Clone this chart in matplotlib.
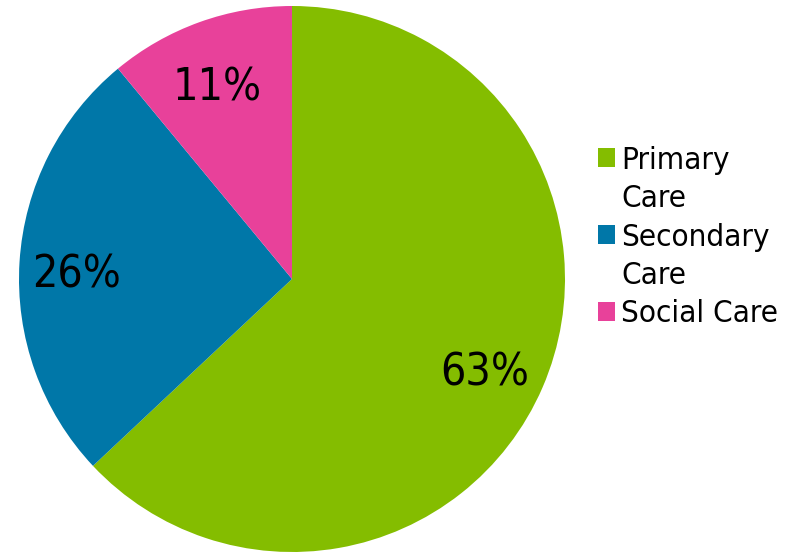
import matplotlib
matplotlib.use("Agg")
import matplotlib.pyplot as plt
from matplotlib.patches import Patch
from matplotlib.transforms import ScaledTranslation

categories = ["Primary\nCare", "Secondary\nCare", "Social Care"]
values = [63, 26, 11]
colors = ["#84BD00", "#0077A8", "#E8419A"]

plt.rcParams['font.family'] = ['DejaVu Sans']
plt.rcParams['font.stretch'] = 'condensed'
fig = plt.figure(figsize=(7.92, 5.53), dpi=100)
ax = fig.add_axes([19/792, 1/553, 546/792, 546/553])
wedges, texts, autotexts = ax.pie(values, colors=colors, startangle=90, counterclock=False,
                                  autopct=lambda p: f"{p:.0f}%", pctdistance=0.78,
                                  wedgeprops=dict(linewidth=0),
                                  textprops=dict(fontsize=32, color="black"))
ax.set_xlim(-1, 1)
ax.set_ylim(-1, 1)
ax.set_aspect('equal')
shift = ScaledTranslation(-3/100, -9/100, fig.dpi_scale_trans)
for t in autotexts:
    t.set_transform(t.get_transform() + shift)

# legend: handle aligned with first line of each wrapped label
handles, labels = [], []
for w, cat in zip(wedges, categories):
    lines = cat.split("\n")
    handles.append(Patch(facecolor=w.get_facecolor(), edgecolor='none'))
    labels.append(lines[0])
    for extra in lines[1:]:
        handles.append(Patch(facecolor='none', edgecolor='none'))
        labels.append(extra)

leg = fig.legend(handles, labels, loc='center left', bbox_to_anchor=(598/792, 1 - 237/553),
                 bbox_transform=fig.transFigure, frameon=False, fontsize=22.5,
                 handlelength=0.55, handleheight=0.55, handletextpad=0.2,
                 labelspacing=0.3, borderpad=0, borderaxespad=0)

fig.savefig("out.png", dpi=100)
